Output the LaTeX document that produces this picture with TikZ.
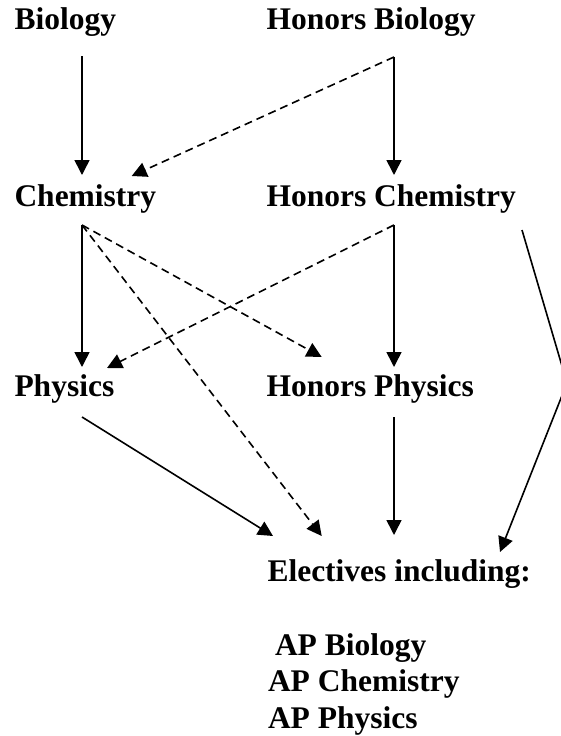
\documentclass[tikz,border=0pt]{standalone}
\usepackage{fontspec}
\setmainfont{Liberation Serif}
\usetikzlibrary{arrows.meta}
\begin{document}
\begin{tikzpicture}[x=1pt,y=-1pt,
  lbl/.style={anchor=base west,inner sep=0pt,outer sep=0pt,font=\bfseries\fontsize{31.5}{36.6}\selectfont},
  conn/.style={line width=1.6pt,-{Triangle[length=15pt,width=15pt]}},
  dconn/.style={conn,dash pattern=on 8pt off 5pt}]
\useasboundingbox (0,0) rectangle (560,736);
\fill[white] (0,0) rectangle (560,736);
% texts
\node[lbl] (bio) at (14.5,29.5) {Biology};
\node[lbl] (hbio) at (266.5,29.5) {Honors Biology};
\node[lbl] (chem) at (14.5,206) {Chemistry};
\node[lbl] (hchem) at (266.5,206) {Honors Chemistry};
\node[lbl] (phys) at (14.5,396.5) {Physics};
\node[lbl] (hphys) at (266.5,396.5) {Honors Physics};
\node[lbl] (elec) at (267.5,581.5) {Electives including:};
\node[lbl] (apb) at (275,655) {AP Biology};
\node[lbl] (apc) at (268,691.7) {AP Chemistry};
\node[lbl] (app) at (268,728.3) {AP Physics};
% connector ends
\coordinate (bioS) at (82,56);
\coordinate (hbioS) at (394,57);
\coordinate (chemN) at (82,175);
\coordinate (chemNE) at (131.7,176);
\coordinate (hchemN) at (394,175);
\coordinate (chemS) at (82,225);
\coordinate (hchemS) at (394,225);
\coordinate (hchemE) at (522,230);
\coordinate (bend) at (567,383);
\coordinate (physN) at (82,367);
\coordinate (physNE) at (107,368);
\coordinate (hphysNW) at (321.7,357);
\coordinate (hphysN) at (394,367);
\coordinate (physS) at (82,417);
\coordinate (hphysS) at (394,417);
\coordinate (elecA) at (273,536);
\coordinate (elecB) at (321.7,536);
\coordinate (elecC) at (394,535);
\coordinate (elecD) at (500,552);
% connectors
\draw[conn] (bioS) -- (chemN);
\draw[conn] (hbioS) -- (hchemN);
\draw[dconn] (hbioS) -- (chemNE);
\draw[conn] (chemS) -- (physN);
\draw[conn] (hchemS) -- (hphysN);
\draw[dconn] (hchemS) -- (physNE);
\draw[dconn] (chemS) -- (hphysNW);
\draw[dconn] (chemS) -- (elecB);
\draw[conn] (physS) -- (elecA);
\draw[conn] (hphysS) -- (elecC);
\draw[conn] (hchemE) -- (bend) -- (elecD);
\end{tikzpicture}
\end{document}
